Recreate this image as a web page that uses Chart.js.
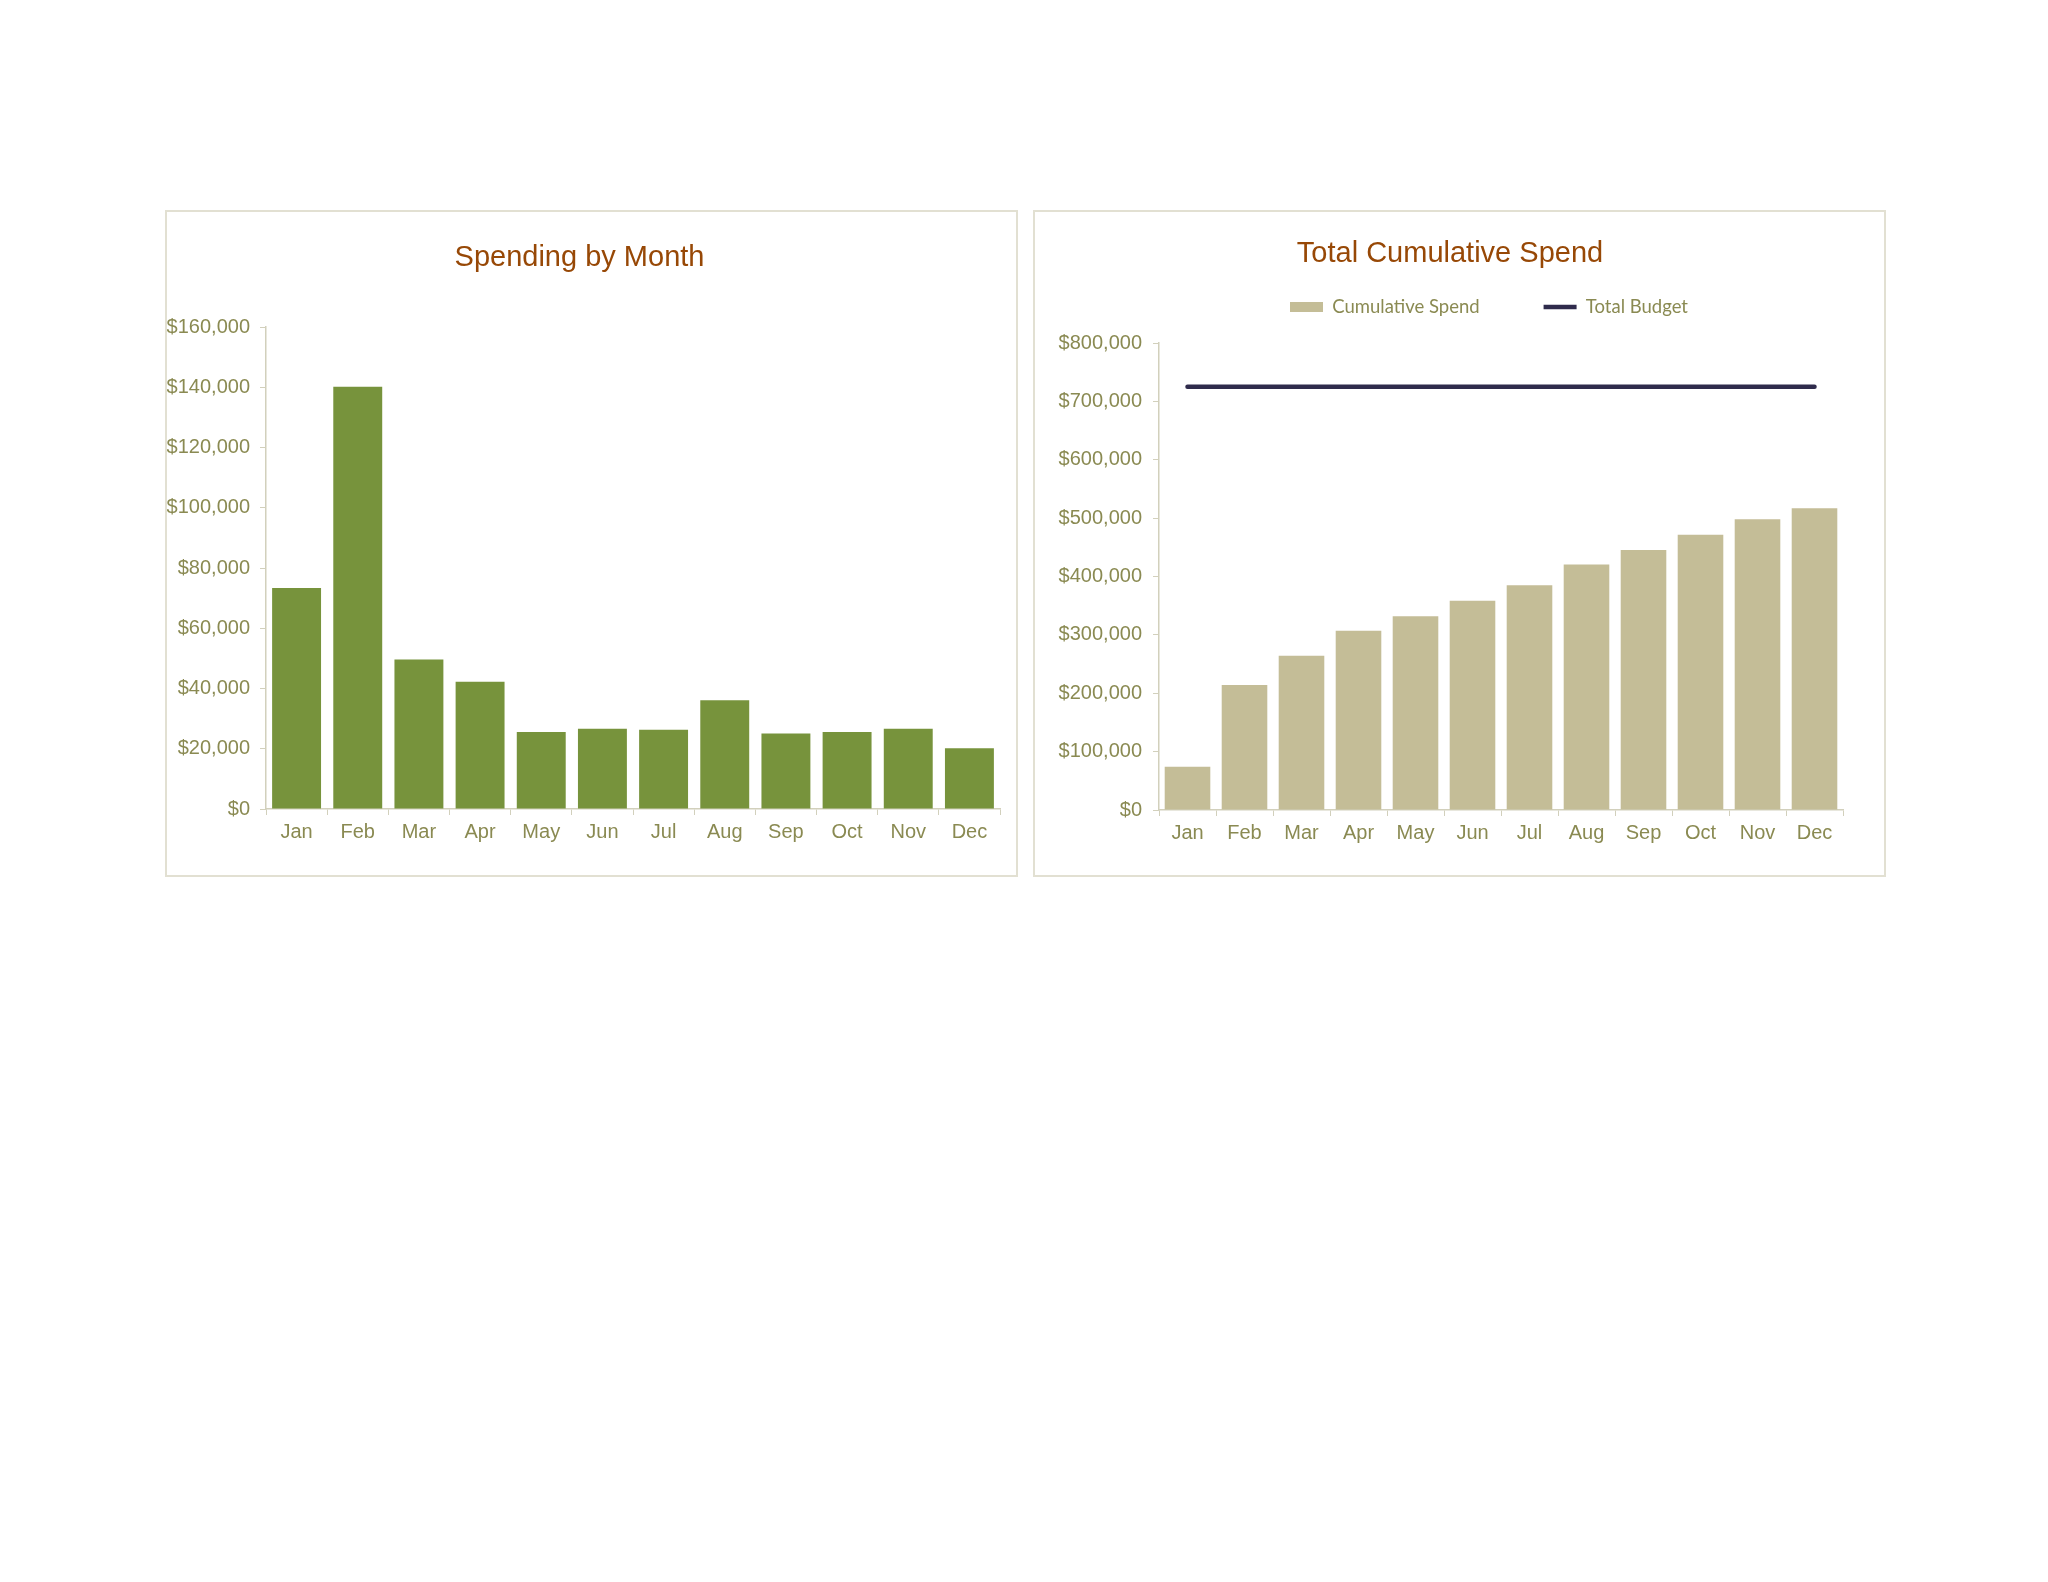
<!DOCTYPE html>
<html>
<head>
<meta charset="utf-8">
<script src="https://cdn.jsdelivr.net/npm/chart.js@4.4.0/dist/chart.umd.min.js"></script>
<style>
  body { margin: 0; background: #fff; width: 2048px; height: 1582px; position: relative; }
  .box { position: absolute; border: 2px solid #E2E0D2; width: 849px; height: 663px; }
  canvas { display: block; }
</style>
</head>
<body>
<div class="box" style="left:165px; top:210px;"><canvas id="spendchart" width="849" height="663"></canvas></div>
<div class="box" style="left:1033px; top:210px;"><canvas id="cumchart" width="849" height="663"></canvas></div>
<script>
const months = ['Jan', 'Feb', 'Mar', 'Apr', 'May', 'Jun', 'Jul', 'Aug', 'Sep', 'Oct', 'Nov', 'Dec'];
const monthlySpend = [73400, 140200, 49600, 42200, 25600, 26600, 26300, 36100, 25100, 25600, 26600, 20200];
const cumulativeSpend = [74000, 214300, 264200, 307200, 332100, 358500, 384900, 420400, 445300, 471700, 498100, 517000];
const totalBudget = [725000, 725000, 725000, 725000, 725000, 725000, 725000, 725000, 725000, 725000, 725000, 725000];
const spendAxis = { max: 160000, step: 20000 };
const cumAxis = { max: 800000, step: 100000 };

const axisColor = '#D2D0BC';
const textColor = '#8A8A52';
const titleColor = '#974806';
const tickFont = { family: "'Liberation Sans', Arial, sans-serif", size: 20 };
const money = v => '$' + Number(v).toLocaleString('en-US');

// shifts title / legend boxes after layout (Excel puts them a bit off-centre)
const nudgeBoxes = {
    id: 'nudgeBoxes',
    afterLayout(chart, args, opts) {
        const t = chart.titleBlock;
        if (t && opts.titleX) { t.left += opts.titleX; t.right += opts.titleX; }
        const lg = chart.legend;
        if (lg && opts.legendX !== undefined) {
            lg.left += opts.legendX; lg.right += opts.legendX;
            lg.top += opts.legendY; // keep bottom so the clip box still holds the items
        }
    }
};

const ctx1 = document.getElementById('spendchart').getContext('2d');
const spendchart = new Chart(ctx1, {
    type: 'bar',
    data: {
        labels: months,
        datasets: [{
            label: 'Spending',
            data: monthlySpend,
            backgroundColor: '#77933C',
            borderWidth: 0,
            barPercentage: 0.8,
            categoryPercentage: 1
        }]
    },
    plugins: [nudgeBoxes],
    options: {
        responsive: false,
        animation: false,
        layout: { padding: { left: 0, right: 16, top: 0, bottom: 26 } },
        plugins: {
            legend: { display: false },
            tooltip: { enabled: false },
            title: {
                display: true,
                text: 'Spending by Month',
                color: titleColor,
                font: { family: "'Liberation Sans', Arial, sans-serif", size: 29, weight: 'normal' },
                padding: { top: 29, bottom: 51.2 }
            },
            nudgeBoxes: { titleX: -4 }
        },
        scales: {
            x: {
                grid: { display: true, drawOnChartArea: false, drawTicks: true, tickLength: 6, color: axisColor, offset: true },
                border: { display: true, color: axisColor, width: 1.5 },
                ticks: { color: textColor, font: tickFont, padding: 5 }
            },
            y: {
                min: 0,
                max: spendAxis.max,
                afterFit(scale) { scale.width = 99; },
                grid: { drawOnChartArea: false, drawTicks: true, tickLength: 6, color: axisColor },
                border: { display: true, color: axisColor, width: 1.5 },
                ticks: { stepSize: spendAxis.step, color: textColor, font: tickFont, padding: 10, callback: money }
            }
        }
    }
});

const ctx2 = document.getElementById('cumchart').getContext('2d');
const cumchart = new Chart(ctx2, {
    type: 'bar',
    data: {
        labels: months,
        datasets: [{
            type: 'bar',
            label: 'Cumulative Spend',
            data: cumulativeSpend,
            backgroundColor: '#C4BD97',
            borderWidth: 0,
            barPercentage: 0.8,
            categoryPercentage: 1
        }, {
            type: 'line',
            label: 'Total Budget',
            data: totalBudget,
            borderColor: '#2F2B4C',
            backgroundColor: '#2F2B4C',
            borderWidth: 4.5,
            borderCapStyle: 'round',
            pointRadius: 0,
            fill: false
        }]
    },
    plugins: [nudgeBoxes],
    options: {
        responsive: false,
        animation: false,
        layout: { padding: { left: 0, right: 41, top: 0, bottom: 25 } },
        plugins: {
            tooltip: { enabled: false },
            title: {
                display: true,
                text: 'Total Cumulative Spend',
                color: titleColor,
                font: { family: "'Liberation Sans', Arial, sans-serif", size: 29, weight: 'normal' },
                padding: { top: 25, bottom: 0 }
            },
            legend: {
                position: 'top',
                maxHeight: 71.2,
                labels: {
                    usePointStyle: true,
                    pointStyleWidth: 33,
                    boxHeight: 10,
                    padding: 64,
                    color: textColor,
                    font: { family: 'Lato, sans-serif', size: 18.5 },
                    generateLabels(chart) {
                        const items = Chart.defaults.plugins.legend.labels.generateLabels(chart);
                        items[0].pointStyle = 'rect';
                        items[0].lineWidth = 0;
                        items[1].pointStyle = 'line';
                        items[1].lineWidth = 4.5;
                        items[1].strokeStyle = '#2F2B4C';
                        return items;
                    }
                }
            },
            nudgeBoxes: { titleX: 11, legendX: 50, legendY: -38 }
        },
        scales: {
            x: {
                grid: { display: true, drawOnChartArea: false, drawTicks: true, tickLength: 6, color: axisColor, offset: true },
                border: { display: true, color: axisColor, width: 1.5 },
                ticks: { color: textColor, font: tickFont, padding: 5 }
            },
            y: {
                min: 0,
                max: cumAxis.max,
                afterFit(scale) { scale.width = 124; },
                grid: { drawOnChartArea: false, drawTicks: true, tickLength: 6, color: axisColor },
                border: { display: true, color: axisColor, width: 1.5 },
                ticks: { stepSize: cumAxis.step, color: textColor, font: tickFont, padding: 11, callback: money }
            }
        }
    }
});
</script>
</body>
</html>
